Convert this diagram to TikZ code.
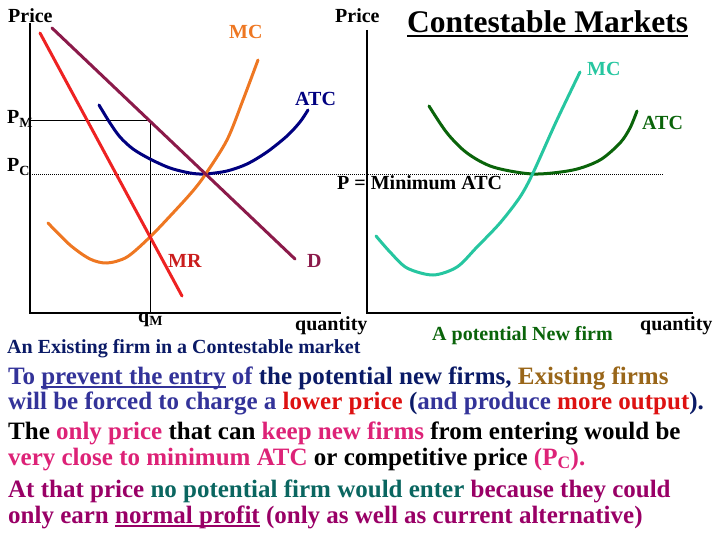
\documentclass[tikz,border=0pt]{standalone}
\usepackage{fontspec}
\setmainfont{Liberation Serif}
\usetikzlibrary{positioning}
\definecolor{navy}{HTML}{000080}
\definecolor{orng}{HTML}{EE7722}
\definecolor{mrred}{HTML}{EE2222}
\definecolor{dmaroon}{HTML}{8B1A4A}
\definecolor{mcteal}{HTML}{26C6A0}
\definecolor{atcgreen}{HTML}{0A640A}
\definecolor{blu}{HTML}{333399}
\definecolor{navytx}{HTML}{0A1A66}
\definecolor{gold}{HTML}{996619}
\definecolor{redtx}{HTML}{DD1111}
\definecolor{pinktx}{HTML}{DD2277}
\definecolor{plum}{HTML}{990066}
\definecolor{tealtx}{HTML}{0A6660}
\newcommand\ulbar[2]{\setbox0\hbox{#2}\rlap{\textcolor{#1}{\rule[-4pt]{\wd0}{2pt}}}\box0\relax}
\tikzset{lbl/.style={font=\bfseries\fontsize{20}{22}\selectfont,inner sep=0pt,anchor=base west},txt/.style={font=\bfseries\fontsize{25}{25}\selectfont,inner sep=0pt,anchor=base west},curve/.style={line width=3pt,smooth,line cap=round},axis/.style={draw=black,line width=1.2pt},dotline/.style={draw=black,line width=.8pt,dash pattern=on .8pt off 1.2pt}}

\begin{document}
\begin{tikzpicture}[x=1pt,y=-1pt]
\useasboundingbox (0,0) rectangle (720,540);
% existing firm
\coordinate (o1) at (30,313);
\draw[axis] (30,23) -- (o1) -- (341,313);
\draw[thin] (30,120) -- (150,120) -- (150,313);
\draw[dotline] (30,174) -- (663,174);
\draw[curve,navy] plot coordinates {(99,105) (110,123) (120,137) (133,149) (150,159) (170,168) (190,173) (205,174) (227,171) (247,164) (267,152) (287,136) (300,122) (308,110)};
\draw[curve,orng] plot coordinates {(48,223) (70,245) (90,259) (107,263) (127,257) (150,237) (172,214) (192,192) (205,175) (227,140) (243,100) (258,60)};
\draw[curve,mrred] (40,33) -- (182,296);
\draw[curve,dmaroon] (52,28) -- (295,259);
\node[lbl] (pr1) at (8,23) {Price};
\node[lbl,text=orng] (mc1) at (229,39) {MC};
\node[lbl,text=navy] (atc1) at (295,106) {ATC};
\node[lbl] (pm) at (7,124) {P\textsubscript{M}};
\node[lbl] (pc) at (7,172) {P\textsubscript{C}};
\node[lbl,text=mrred!85!black] (mr) at (168,267) {MR};
\node[lbl,text=dmaroon] (d) at (307,267) {D};
\node[lbl] (qm) at (138,322) {q\textsubscript{M}};
\node[lbl] (q1) at (295,330) {quantity};
\node[lbl,text=navytx] (cap1) at (7,353) {An Existing firm in a Contestable market};
% new firm
\coordinate (o2) at (367,313);
\draw[axis] (367,30) -- (o2) -- (693,313);
\draw[curve,atcgreen] plot coordinates {(429,106) (447,133) (467,153) (493,167) (533,174) (573,170) (600,160) (620,143) (630,128) (637,111)};
\draw[curve,mcteal] plot coordinates {(376,236) (390,252) (407,268) (433,275) (457,267) (477,247) (500,223) (520,197) (533,173) (556,122) (580,72)};
\node[lbl] (pr2) at (335,23) {Price};
\node[lbl,font=\bfseries\fontsize{31.5}{34}\selectfont] (ttl) at (407,33) {\ulbar{black}{Contestable Markets}};
\node[lbl] (pmin) at (337,190) {P = Minimum ATC};
\node[lbl,text=mcteal] (mc2) at (587,76) {MC};
\node[lbl,text=atcgreen] (atc2) at (642,130) {ATC};
\node[lbl] (q2) at (640,330) {quantity};
\node[lbl,text=atcgreen] (cap2) at (432,340) {A potential New firm};
% text
\node[txt] (l1) at (8,384) {\textcolor{blu}{To \ulbar{blu}{prevent the entry} of} \textcolor{navytx}{the potential new firms,} \textcolor{gold}{Existing firms}};
\node[txt] (l2) at (8,409) {\textcolor{blu}{will be forced to charge a} \textcolor{redtx}{lower price} \textcolor{navytx}{(}\textcolor{blu}{and produce} \textcolor{redtx}{more output}\textcolor{navytx}{).}};
\node[txt] (l3) at (8,439) {The \textcolor{pinktx}{only price} that can \textcolor{pinktx}{keep new firms} from entering would be};
\node[txt] (l4) at (8,465) {\textcolor{pinktx}{very close to minimum ATC} or competitive price \textcolor{pinktx}{(P\textsubscript{C}).}};
\node[txt] (l5) at (8,497) {\textcolor{plum}{At that price} \textcolor{tealtx}{no potential firm would enter} \textcolor{plum}{because they could}};
\node[txt] (l6) at (8,523) {\textcolor{plum}{only earn \ulbar{plum}{normal profit} (only as well as current alternative)}};
\end{tikzpicture}
\end{document}
